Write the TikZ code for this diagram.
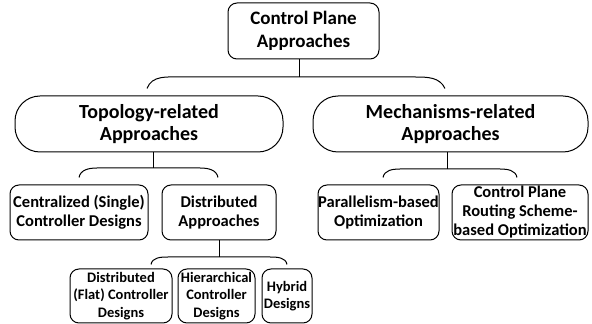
\documentclass[tikz,border=0pt]{standalone}
\usepackage{fontspec}
\setmainfont{Carlito}
\usetikzlibrary{positioning,calc}

\tikzset{
  box/.style={draw, line width=1pt, rounded corners=9pt, align=center, inner sep=0pt},
  pill/.style={box, rounded corners=25pt},
  link/.style={line width=1pt},
  big/.style={font=\bfseries\fontsize{19}{23}\selectfont},
  mid/.style={font=\bfseries\fontsize{16.5}{19}\selectfont},
  small/.style={font=\bfseries\fontsize{14.5}{17.5}\selectfont}
}

\begin{document}
\begin{tikzpicture}[x=1pt,y=1pt]
      \useasboundingbox (0,0) rectangle (592,324);

      % root
      \node[box,big, minimum width=151pt, minimum height=56pt] (cp) at (303.5,293) {Control Plane\\Approaches};

      % second level
      \node[pill,big, minimum width=268pt, minimum height=56pt, font=\bfseries\fontsize{20}{22}\selectfont] (topo) at (149,200) {Topology-related\\Approaches};
      \node[pill,big, minimum width=275pt, minimum height=56pt, font=\bfseries\fontsize{20}{22}\selectfont] (mech) at (450.5,200) {Mechanisms-related\\Approaches};

      \draw[link] ([xshift=-4.5pt]cp.south) -- ++(0,-18);
      \draw[link] ($(topo.north)+(-2,7)$) to[out=70,in=180] (182,247) -- (415,247) to[out=0,in=115] ($(mech.north)+(-5.5,7)$);

      % third level
      \node[box,mid, minimum width=138pt, minimum height=55pt] (central) at (79,111.5) {Centralized (Single)\\Controller Designs};
      \node[box,mid, minimum width=114pt, minimum height=55pt] (dist) at (219,111.5) {Distributed\\Approaches};
      \node[box,mid, minimum width=121pt, minimum height=55pt] (para) at (378.5,111.5) {Parallelism-based\\Optimization};
      \node[box,mid, minimum width=136pt, minimum height=55pt] (route) at (520,111.5) {Control Plane\\Routing Scheme-\\based Optimization};

      \draw[link] ([xshift=4pt]topo.south) -- ++(0,-16);
      \draw[link] ($(central.north)+(0,7)$) to[out=80,in=180] (97,156) -- (200,156) to[out=0,in=100] ($(dist.north)+(-1,7)$);

      \draw[link] ([xshift=-3.5pt]mech.south) -- ++(0,-17);
      \draw[link] ($(para.north)+(4.5,7)$) to[out=80,in=180] (400,155) -- (500,155) to[out=0,in=100] ($(route.north)+(-3,7)$);

      % fourth level
      \node[box,small, minimum width=102pt, minimum height=54pt] (flat) at (121,28) {Distributed\\(Flat) Controller\\Designs};
      \node[box,small, minimum width=77pt, minimum height=54pt] (hier) at (216.5,28) {Hierarchical\\Controller\\Designs};
      \node[box,small, minimum width=50pt, minimum height=54pt] (hyb) at (287,28) {Hybrid\\Designs};

      \draw[link] (dist.south) -- ++(0,-17);
      \draw[link] ($(flat.north)+(30,4)$) to[out=80,in=180] (168,67) -- (270,67) to[out=0,in=100] ($(hyb.north)+(0,4)$);

\end{tikzpicture}
\end{document}
